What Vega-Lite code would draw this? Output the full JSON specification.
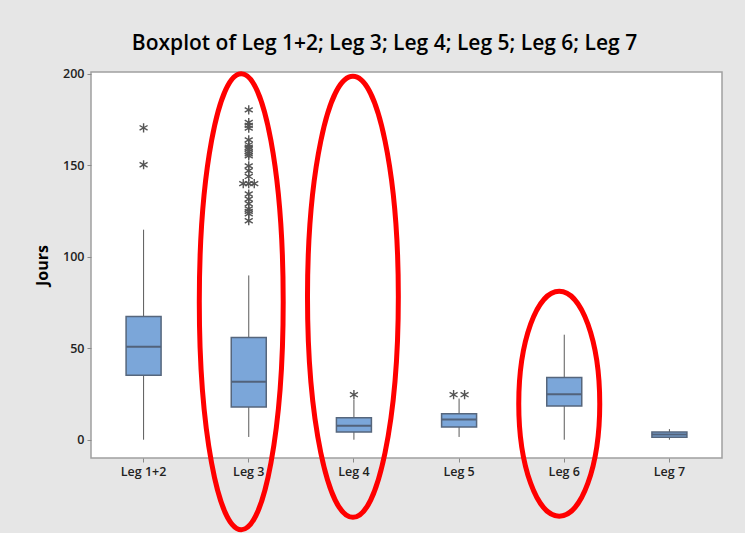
{
  "$schema": "https://vega.github.io/schema/vega-lite/v6.json",
  "width": 631,
  "height": 386,
  "autosize": {"type": "none"},
  "padding": {"left": 91, "top": 72, "right": 23, "bottom": 75},
  "background": "#e6e6e6",
  "config": {
    "font": "Open Sans",
    "view": {"fill": "white", "stroke": "#a0a0a0", "strokeWidth": 1.5},
    "axis": {
      "labelFont": "Open Sans",
      "labelFontSize": 12.5,
      "labelFontWeight": 600,
      "labelColor": "#222222",
      "tickColor": "#8a8a8a",
      "tickSize": 4,
      "domain": false,
      "grid": false,
      "titleFont": "Open Sans",
      "titleFontSize": 16,
      "titleFontWeight": 700,
      "titleColor": "#000000"
    },
    "axisY": {"titlePadding": 12, "labelPadding": 3},
    "axisX": {"labelPadding": 3, "labelAngle": 0}
  },
  "title": {
    "text": "Boxplot of Leg 1+2; Leg 3; Leg 4; Leg 5; Leg 6; Leg 7",
    "fontSize": 21,
    "fontWeight": 600,
    "color": "#000000",
    "anchor": "middle",
    "dx": -22,
    "offset": 10
  },
  "datasets": {
    "boxes": [
      {"leg": "Leg 1+2", "lower": 0, "q1": 35.3, "median": 50.8, "q3": 67.4, "upper": 114.8},
      {"leg": "Leg 3", "lower": 1.5, "q1": 17.9, "median": 31.7, "q3": 55.9, "upper": 89.8},
      {"leg": "Leg 4", "lower": 0, "q1": 4.2, "median": 7.6, "q3": 12, "upper": 22},
      {"leg": "Leg 5", "lower": 1.5, "q1": 6.9, "median": 11.1, "q3": 14.2, "upper": 22.5},
      {"leg": "Leg 6", "lower": 0, "q1": 18.4, "median": 24.8, "q3": 34, "upper": 57.4},
      {"leg": "Leg 7", "lower": 0, "q1": 1.3, "median": 2.9, "q3": 4.2, "upper": 5.8}
    ],
    "outliers": [
      {"leg": "Leg 1+2", "value": 170.5, "pos": "C"},
      {"leg": "Leg 1+2", "value": 150.3, "pos": "C"},
      {"leg": "Leg 3", "value": 180.3, "pos": "C"},
      {"leg": "Leg 3", "value": 173.4, "pos": "C"},
      {"leg": "Leg 3", "value": 171.8, "pos": "C"},
      {"leg": "Leg 3", "value": 170.3, "pos": "C"},
      {"leg": "Leg 3", "value": 163.9, "pos": "C"},
      {"leg": "Leg 3", "value": 161.2, "pos": "C"},
      {"leg": "Leg 3", "value": 159.9, "pos": "C"},
      {"leg": "Leg 3", "value": 158.9, "pos": "C"},
      {"leg": "Leg 3", "value": 157.5, "pos": "C"},
      {"leg": "Leg 3", "value": 156.3, "pos": "C"},
      {"leg": "Leg 3", "value": 155.2, "pos": "C"},
      {"leg": "Leg 3", "value": 149.7, "pos": "C"},
      {"leg": "Leg 3", "value": 147, "pos": "C"},
      {"leg": "Leg 3", "value": 143.9, "pos": "C"},
      {"leg": "Leg 3", "value": 140, "pos": "L"},
      {"leg": "Leg 3", "value": 140, "pos": "C"},
      {"leg": "Leg 3", "value": 140, "pos": "R"},
      {"leg": "Leg 3", "value": 134.3, "pos": "C"},
      {"leg": "Leg 3", "value": 131.5, "pos": "C"},
      {"leg": "Leg 3", "value": 129, "pos": "C"},
      {"leg": "Leg 3", "value": 126.1, "pos": "C"},
      {"leg": "Leg 3", "value": 124.8, "pos": "C"},
      {"leg": "Leg 3", "value": 123.5, "pos": "C"},
      {"leg": "Leg 3", "value": 119.7, "pos": "C"},
      {"leg": "Leg 4", "value": 24.6, "pos": "C"},
      {"leg": "Leg 5", "value": 24.6, "pos": "L"},
      {"leg": "Leg 5", "value": 24.6, "pos": "R"}
    ]
  },
  "encoding": {
    "x": {
      "field": "leg",
      "type": "nominal",
      "sort": null,
      "title": null,
      "scale": {"domain": ["Leg 1+2", "Leg 3", "Leg 4", "Leg 5", "Leg 6", "Leg 7"], "paddingInner": 0, "paddingOuter": 0}
    }
  },
  "layer": [
    {
      "data": {"name": "boxes"},
      "mark": {"type": "rule", "color": "#5a5a5a", "strokeWidth": 1},
      "encoding": {
        "y": {"field": "lower", "type": "quantitative", "title": "Jours",
              "scale": {"domain": [-10, 201], "nice": false, "zero": false},
              "axis": {"values": [0, 50, 100, 150, 200]}},
        "y2": {"field": "upper"}
      }
    },
    {
      "data": {"name": "boxes"},
      "mark": {"type": "bar", "width": 35, "fill": "#7ba6d9", "stroke": "#56667c", "strokeWidth": 1.5},
      "encoding": {
        "y": {"field": "q1", "type": "quantitative", "title": "Jours"},
        "y2": {"field": "q3"}
      }
    },
    {
      "data": {"name": "boxes"},
      "mark": {"type": "tick", "color": "#52627a", "thickness": 2, "size": 35, "opacity": 1},
      "encoding": {
        "y": {"field": "median", "type": "quantitative", "title": "Jours"}
      }
    },
    {
      "data": {"name": "outliers"},
      "transform": [{"filter": "datum.pos === 'C'"}],
      "mark": {"type": "point", "shape": "M0,-1L0,1M-0.87,-0.5L0.87,0.5M-0.87,0.5L0.87,-0.5", "filled": false, "stroke": "#555555", "strokeWidth": 1.4, "size": 85, "opacity": 1},
      "encoding": {
        "y": {"field": "value", "type": "quantitative", "title": "Jours"}
      }
    },
    {
      "data": {"name": "outliers"},
      "transform": [{"filter": "datum.pos === 'L'"}],
      "mark": {"type": "point", "shape": "M0,-1L0,1M-0.87,-0.5L0.87,0.5M-0.87,0.5L0.87,-0.5", "filled": false, "stroke": "#555555", "strokeWidth": 1.4, "size": 85, "opacity": 1, "xOffset": -5.5},
      "encoding": {
        "y": {"field": "value", "type": "quantitative", "title": "Jours"}
      }
    },
    {
      "data": {"name": "outliers"},
      "transform": [{"filter": "datum.pos === 'R'"}],
      "mark": {"type": "point", "shape": "M0,-1L0,1M-0.87,-0.5L0.87,0.5M-0.87,0.5L0.87,-0.5", "filled": false, "stroke": "#555555", "strokeWidth": 1.4, "size": 85, "opacity": 1, "xOffset": 5.5},
      "encoding": {
        "y": {"field": "value", "type": "quantitative", "title": "Jours"}
      }
    },
    {
      "data": {"values": [{}]},
      "mark": {"type": "point", "shape": "M0,-1C0.1016,-1,0.184,-0.5523,0.184,0C0.184,0.5523,0.1016,1,0,1C-0.1016,1,-0.184,0.5523,-0.184,0C-0.184,-0.5523,-0.1016,-1,0,-1Z", "filled": false, "stroke": "#ff0000", "strokeWidth": 5, "size": 207936, "opacity": 1, "xOffset": -7.5},
      "encoding": {
        "x": {"datum": "Leg 3"},
        "y": {"datum": 75.4}
      }
    },
    {
      "data": {"values": [{}]},
      "mark": {"type": "point", "shape": "M0,-1C0.1138,-1,0.206,-0.5523,0.206,0C0.206,0.5523,0.1138,1,0,1C-0.1138,1,-0.206,0.5523,-0.206,0C-0.206,-0.5523,-0.1138,-1,0,-1Z", "filled": false, "stroke": "#ff0000", "strokeWidth": 5, "size": 194481, "opacity": 1, "xOffset": -1},
      "encoding": {
        "x": {"datum": "Leg 4"},
        "y": {"datum": 78.1}
      }
    },
    {
      "data": {"values": [{}]},
      "mark": {"type": "point", "shape": "M0,-1C0.1988,-1,0.36,-0.5523,0.36,0C0.36,0.5523,0.1988,1,0,1C-0.1988,1,-0.36,0.5523,-0.36,0C-0.36,-0.5523,-0.1988,-1,0,-1Z", "filled": false, "stroke": "#ff0000", "strokeWidth": 5, "size": 50625, "opacity": 1, "xOffset": -5},
      "encoding": {
        "x": {"datum": "Leg 6"},
        "y": {"datum": 19.7}
      }
    }
  ]
}
